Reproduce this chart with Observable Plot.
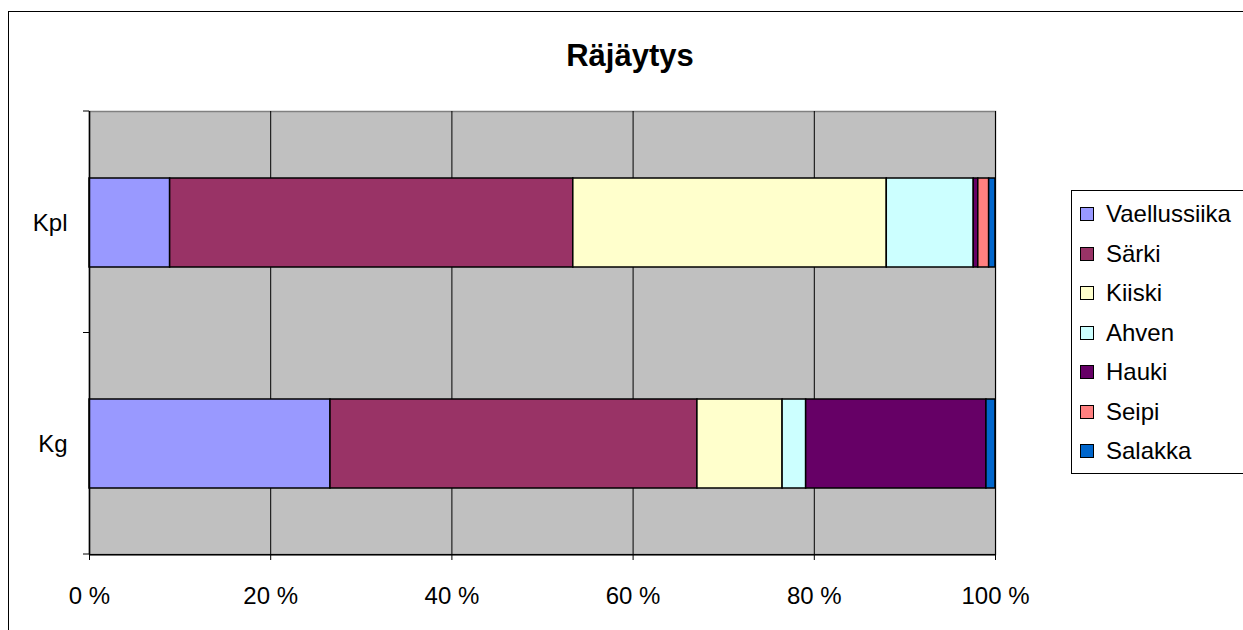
<!DOCTYPE html>
<html>
<head>
<meta charset="utf-8">
<script src="https://cdn.jsdelivr.net/npm/d3@7"></script>
<script src="https://cdn.jsdelivr.net/npm/@observablehq/plot@0.6"></script>
<style>
  html, body { margin: 0; padding: 0; background: #fff; overflow: hidden; }
  #wrap { position: relative; width: 1243px; height: 630px; font-family: "Liberation Sans", Arial, sans-serif; }
  #outer { position: absolute; left: 8px; top: 11px; width: 1300px; height: 700px; border: 1.5px solid #000; box-sizing: border-box; }
  #title { position: absolute; left: 0; width: 1260px; top: 38px; text-align: center; font-weight: bold; font-size: 31px; line-height: 36px; color: #000; }
  #chart { position: absolute; left: 0; top: 0; }
  #legend { position: absolute; left: 1071px; top: 190px; width: 200px; height: 284px; border: 1.5px solid #000; box-sizing: border-box; background: #fff; }
  .item { position: absolute; left: 8px; height: 28px; display: flex; align-items: center; font-size: 24px; color: #000; }
  .sw { width: 12px; height: 12px; border: 1px solid #000; margin-right: 12px; }
</style>
</head>
<body>
<div id="wrap">
  <div id="outer"></div>
  <div id="chart"></div>
  <div id="title">Räjäytys</div>
  <div id="legend"></div>
</div>
<script>
// Data
const categories = ["Kpl", "Kg"];
const species = ["Vaellussiika", "Särki", "Kiiski", "Ahven", "Hauki", "Seipi", "Salakka"];
const colors = ["#9999ff", "#993366", "#ffffcc", "#ccffff", "#660066", "#ff8080", "#0066cc"];
const kplValues = [8.9, 44.5, 34.6, 9.6, 0.5, 1.2, 0.7];
const kgValues = [26.6, 40.5, 9.4, 2.6, 19.9, 0, 1.0];
const xTicks = [0, 20, 40, 60, 80, 100];

const rows = [];
species.forEach((s, i) => {
  rows.push({cat: "Kpl", species: s, value: kplValues[i]});
  rows.push({cat: "Kg", species: s, value: kgValues[i]});
});

const W = 1243, H = 630;
const mL = 89, mR = 248, mT = 111, mB = 76;

// Custom mark: small ticks at band edges on the y axis
function bandEdgeTicks(index, scales, values, dimensions) {
  const g = d3.create("svg:g");
  const top = dimensions.marginTop;
  const bottom = dimensions.height - dimensions.marginBottom;
  const n = categories.length;
  const step = (bottom - top) / n;
  for (let i = 0; i <= n; i++) {
    const y = top + i * step;
    g.append("line")
      .attr("x1", dimensions.marginLeft - 6).attr("x2", dimensions.marginLeft)
      .attr("y1", y).attr("y2", y)
      .attr("stroke", "#000").attr("stroke-width", 1);
  }
  return g.node();
}

const chart = Plot.plot({
  width: W,
  height: H,
  marginLeft: mL,
  marginRight: mR,
  marginTop: mT,
  marginBottom: mB,
  style: {fontFamily: "'Liberation Sans', Arial, sans-serif", background: "transparent"},
  x: {domain: [0, 100], label: null},
  y: {domain: categories, padding: 0, label: null},
  color: {domain: species, range: colors},
  marks: [
    Plot.frame({fill: "#c0c0c0", stroke: "#808080", strokeWidth: 1.5}),
    Plot.ruleX(xTicks.slice(1), {stroke: "#000", strokeWidth: 1}),
    Plot.barX(rows, Plot.stackX({
      x: "value", y: "cat", fill: "species", order: species,
      stroke: "#000", strokeWidth: 1.5, insetTop: 66, insetBottom: 66
    })),
    Plot.ruleX([0], {stroke: "#000", strokeWidth: 1.5}),
    Plot.ruleY([0], {y: () => "Kg", dy: 110.75, stroke: "#000", strokeWidth: 1.5}),
    Plot.axisX({ticks: xTicks, tickFormat: d => d + " %", tickSize: 6, tickPadding: 26, fontSize: 24, stroke: "#000", color: "#000", label: null}),
    Plot.axisY({tickSize: 0, tickPadding: 22, fontSize: 24, color: "#000", label: null}),
    bandEdgeTicks
  ]
});
document.getElementById("chart").appendChild(chart);

// Legend
const legend = document.getElementById("legend");
species.forEach((s, i) => {
  const it = document.createElement("div");
  it.className = "item";
  it.style.top = (9 + i * 39.5) + "px";
  const sw = document.createElement("div");
  sw.className = "sw";
  sw.style.background = colors[i];
  it.appendChild(sw);
  const t = document.createElement("span");
  t.textContent = s;
  it.appendChild(t);
  legend.appendChild(it);
});
</script>
</body>
</html>
